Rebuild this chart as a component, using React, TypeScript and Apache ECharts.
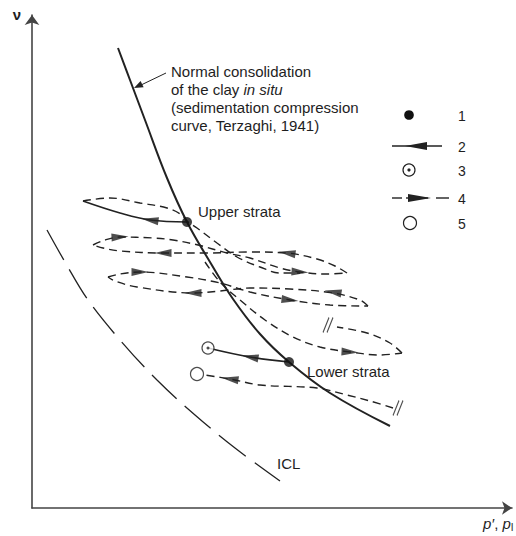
import React, { useEffect, useRef } from 'react';
import * as echarts from 'echarts';

// Units: x = p' (arbitrary), y = specific volume v (arbitrary)
const nclCurve = [[86, 460], [98, 428], [113, 388], [135, 330], [155, 286], [178, 246], [201, 209], [228, 174], [257, 146], [298, 115], [358, 82]];
const iclCurve = [[15, 278], [33, 246], [56, 208], [88, 168], [125, 128], [163, 93], [203, 60], [248, 27]];
const inSituStates = [[155, 286], [257, 146]];
const samplingUpper = [[155, 286], [118, 288], [88, 295], [51, 307]];
const samplingLower = [[257, 146], [218, 151], [176, 160]];
const afterSampling = [[176, 160]];
const afterRelease = [[165, 134]];
const historyTop = [[51, 307], [78, 310], [108, 305], [135, 300], [150, 293], [155, 287], [165, 280], [185, 265], [205, 251], [228, 241], [248, 235], [268, 235]];
const loop1Loading = [[61, 263], [73, 268], [88, 271], [121, 270], [141, 268], [166, 263], [195, 255], [218, 250], [248, 240], [268, 236], [293, 234], [315, 235]];
const loop1Unloading = [[315, 235], [303, 242], [285, 249], [255, 255], [218, 256], [175, 255], [131, 255], [88, 257], [71, 260], [61, 263]];
const loop2Loading = [[76, 231], [88, 234], [108, 236], [155, 231], [188, 225], [218, 216], [258, 208], [298, 203], [336, 202]];
const loop2Unloading = [[336, 202], [328, 208], [301, 215], [258, 219], [218, 220], [188, 217], [161, 215], [105, 221], [83, 227], [76, 231]];
const loop3Loading = [[173, 246], [188, 226], [208, 208], [233, 188], [261, 171], [288, 161], [318, 156], [348, 153], [370, 155]];
const loop3Return = [[370, 155], [358, 165], [335, 175], [305, 181]];
const lowerReturn = [[361, 100], [338, 107], [315, 113], [285, 120], [228, 123], [198, 129], [173, 133]];
const breakMarks = [[296, 183], [366, 100]];
// arrowheads: x, y, direction (degrees, counter-clockwise)
const arrowHeads = [
  [118, 288, 172], [218, 151, 170],
  [88, 271, 3], [131, 255, 180], [255, 255, 172], [268, 236, -4],
  [108, 236, 0], [161, 215, 180], [301, 216, 170], [258, 208, -7],
  [318, 156, -3], [198, 129, 172],
];
const legendNumbers = ['1', '2', '3', '4', '5'];
const noteLines = ['Normal consolidation', 'of the clay {i|in situ}', '(sedimentation compression', 'curve, Terzaghi, 1941)'];

export default function App() {
  const ref = useRef<HTMLDivElement>(null);
  useEffect(() => {
    const chart = echarts.init(ref.current!, null, { renderer: 'svg' });
    const ink = '#222';
    const font = '"Liberation Sans", Arial, Helvetica, sans-serif';
    const dashed = (data: number[][]) => ({
      type: 'line', data, smooth: 0.35, symbol: 'none', silent: true, z: 2,
      lineStyle: { color: ink, width: 1.4, type: [8, 5] },
    });
    const solid = (data: number[][], w: number) => ({
      type: 'line', data, smooth: 0.4, symbol: 'none', silent: true, z: 3,
      lineStyle: { color: ink, width: w },
    });
    const txt = (text: string, x: number, y: number, extra: any = {}) => ({
      type: 'text', x, y, silent: true,
      style: { text, fontSize: 15, fontFamily: font, fill: '#1e1e1e', textAlign: 'left', textVerticalAlign: 'middle', ...extra },
    });
    const legendY = [115, 146, 170, 198, 223];

    const graphic: any[] = [
      txt('ν', 17, 14, { textAlign: 'center', fontWeight: 'bold' }),
      txt('{i|p′}, {i|p}{s|I}', 483, 523, { rich: { i: { fontStyle: 'italic', fontSize: 15, fontFamily: font }, s: { fontSize: 10, fontFamily: font, padding: [8, 0, 0, 0] } } }),
      ...noteLines.map((t, i) => txt(t, 171, 71 + i * 18.3, { rich: { i: { fontStyle: 'italic', fontSize: 15, fontFamily: font } } })),
      txt('Upper strata', 198, 211),
      txt('Lower strata', 307, 371),
      txt('ICL', 277, 463),
      { type: 'line', shape: { x1: 166, y1: 73, x2: 140, y2: 85.5 }, style: { stroke: ink, lineWidth: 1 } },
      { type: 'polygon', shape: { points: [[134, 88], [143.6, 87.3], [140.6, 81]] }, style: { fill: ink } },
      // legend
      { type: 'circle', shape: { cx: 409, cy: legendY[0], r: 4.8 }, style: { fill: '#111' } },
      { type: 'line', shape: { x1: 392, y1: legendY[1], x2: 442, y2: legendY[1] }, style: { stroke: ink, lineWidth: 1.6 } },
      { type: 'polygon', shape: { points: [[405, legendY[1]], [427, legendY[1] - 4], [427, legendY[1] + 4]] }, style: { fill: ink } },
      { type: 'circle', shape: { cx: 409, cy: legendY[2], r: 6 }, style: { fill: '#fff', stroke: ink, lineWidth: 1.2 } },
      { type: 'circle', shape: { cx: 409, cy: legendY[2], r: 1.6 }, style: { fill: ink } },
      { type: 'line', shape: { x1: 392, y1: legendY[3], x2: 402, y2: legendY[3] }, style: { stroke: ink, lineWidth: 1.4 } },
      { type: 'line', shape: { x1: 406, y1: legendY[3], x2: 428, y2: legendY[3] }, style: { stroke: ink, lineWidth: 1.4 } },
      { type: 'polygon', shape: { points: [[431, legendY[3]], [408, legendY[3] - 4], [408, legendY[3] + 4]] }, style: { fill: ink } },
      { type: 'line', shape: { x1: 436, y1: legendY[3], x2: 449, y2: legendY[3] }, style: { stroke: ink, lineWidth: 1.4 } },
      { type: 'circle', shape: { cx: 410, cy: legendY[4], r: 6.5 }, style: { fill: '#fff', stroke: ink, lineWidth: 1.2 } },
      ...legendNumbers.map((n, i) => txt(n, 462, legendY[i] + 1, { fontSize: 14, textAlign: 'center' })),
    ];

    chart.setOption({
      animation: false,
      backgroundColor: '#fff',
      grid: { left: 32, top: 15, width: 480, height: 493 },
      xAxis: {
        type: 'value', min: 0, max: 480,
        axisLine: { show: true, symbol: ['none', 'arrow'], symbolSize: [10, 10], lineStyle: { color: '#444', width: 1.6 } },
        axisTick: { show: false }, axisLabel: { show: false }, splitLine: { show: false },
      },
      yAxis: {
        type: 'value', min: 0, max: 493,
        axisLine: { show: true, symbol: ['none', 'arrow'], symbolSize: [11, 10], lineStyle: { color: '#444', width: 1.6 } },
        axisTick: { show: false }, axisLabel: { show: false }, splitLine: { show: false },
      },
      series: [
        solid(nclCurve, 2),
        { type: 'line', data: iclCurve, smooth: 0.35, symbol: 'none', silent: true, lineStyle: { color: ink, width: 1.3, type: [34, 11] } },
        solid(samplingUpper, 1.7),
        solid(samplingLower, 1.7),
        dashed(historyTop),
        dashed(loop1Loading),
        dashed(loop1Unloading),
        dashed(loop2Loading),
        dashed(loop2Unloading),
        dashed(loop3Loading),
        dashed(loop3Return),
        dashed(lowerReturn),
        {
          type: 'scatter', silent: true, z: 5,
          symbol: 'path://M0,0L17,4L0,8Z', symbolSize: [17, 8],
          itemStyle: { color: ink },
          data: arrowHeads.map((a) => ({ value: [a[0], a[1]], symbolRotate: a[2] })),
        },
        {
          type: 'scatter', silent: true, z: 5,
          symbol: 'path://M0,15L6,0M4,15L10,0', symbolSize: [10, 15],
          itemStyle: { color: 'rgba(0,0,0,0)', borderColor: ink, borderWidth: 1.2 },
          data: breakMarks,
        },
        { type: 'scatter', silent: true, z: 6, symbol: 'circle', symbolSize: 10, itemStyle: { color: '#111' }, data: inSituStates },
        { type: 'scatter', silent: true, z: 6, symbol: 'circle', symbolSize: 12, itemStyle: { color: '#fff', borderColor: ink, borderWidth: 1.2 }, data: afterSampling },
        { type: 'scatter', silent: true, z: 7, symbol: 'circle', symbolSize: 3, itemStyle: { color: ink }, data: afterSampling },
        { type: 'scatter', silent: true, z: 6, symbol: 'circle', symbolSize: 13, itemStyle: { color: '#fff', borderColor: ink, borderWidth: 1.2 }, data: afterRelease },
      ],
      graphic,
    });
    return () => chart.dispose();
  }, []);
  return <div ref={ref} style={{ position: 'fixed', left: 0, top: 0, width: 516, height: 536, background: '#fff' }} />;
}
